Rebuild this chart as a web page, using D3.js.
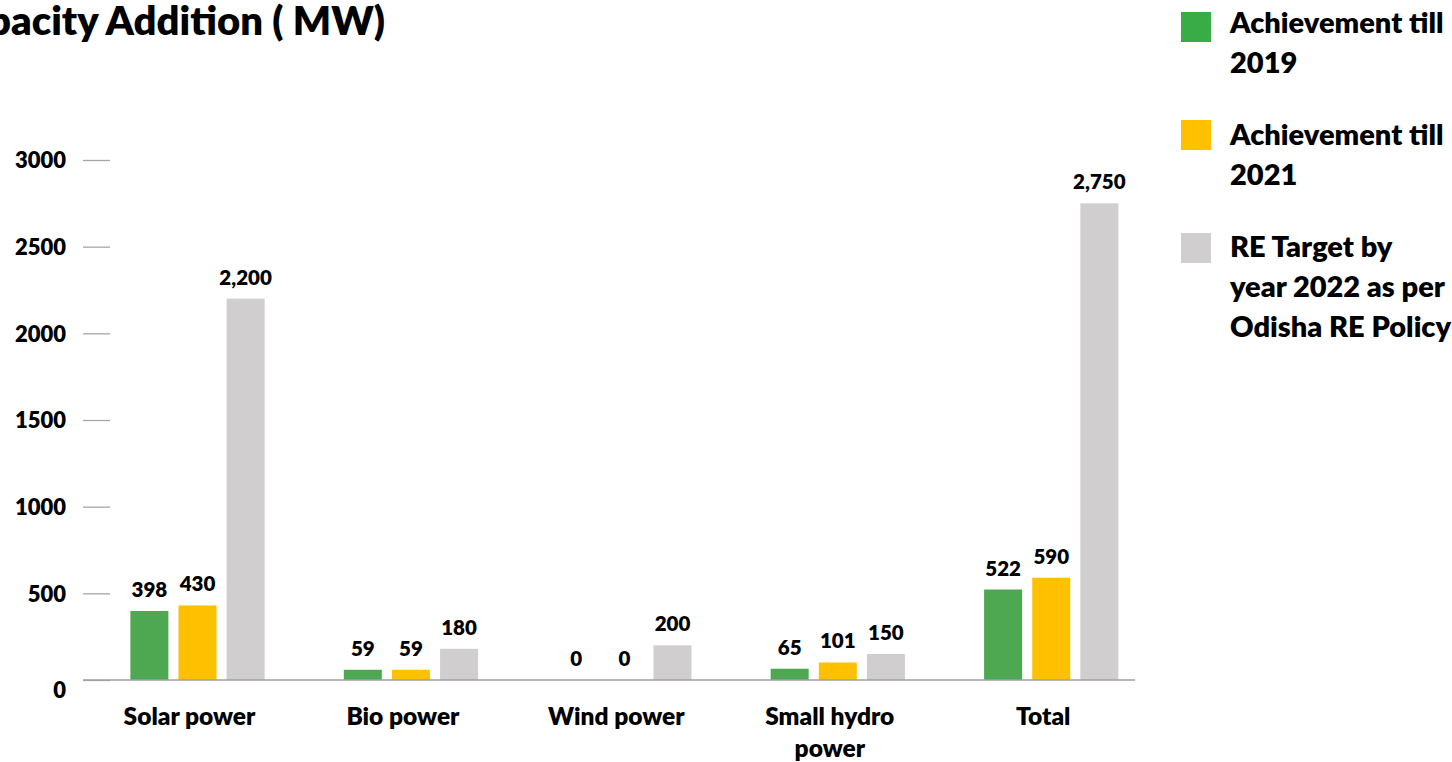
<!DOCTYPE html>
<html>
<head>
<meta charset="utf-8">
<script src="https://cdn.jsdelivr.net/npm/d3@7/dist/d3.min.js"></script>
<style>
  html, body { margin: 0; padding: 0; background: #fff; overflow: hidden; }
  svg { display: block; font-family: Lato, "Open Sans", sans-serif; font-weight: 800; }
</style>
</head>
<body>
<svg id="chart" width="1452" height="762"></svg>
<script>
// Renewable energy capacity (MW) by source
const categories = ["Solar power", "Bio power", "Wind power", "Small hydro power", "Total"];
const seriesNames = ["Achievement till 2019", "Achievement till 2021", "RE Target by year 2022 as per Odisha RE Policy"];
const achieved2019 = [398, 59, 0, 65, 522];
const achieved2021 = [430, 59, 0, 101, 590];
const target2022 = [2200, 180, 200, 150, 2750];
const yTicks = [0, 500, 1000, 1500, 2000, 2500, 3000];

const categoryLines = [["Solar power"], ["Bio power"], ["Wind power"], ["Small hydro", "power"], ["Total"]];
const legendLines = [["Achievement till", "2019"], ["Achievement till", "2021"], ["RE Target by", "year 2022 as per", "Odisha RE Policy"]];
const barColors = ["#4EA852", "#FFC000", "#D0CECE"];
const swatchColors = ["#39AC47", "#FFC000", "#D0CECE"];

const seriesValues = [achieved2019, achieved2021, target2022];
const rows = categories.map((c, i) => ({ category: c, values: seriesNames.map((s, k) => ({ series: s, k, value: seriesValues[k][i] })) }));

const svg = d3.select("#chart");

const plotLeft = 83, plotRight = 1135, plotTop = 160, plotBottom = 680;

const x0 = d3.scaleBand().domain(categories).range([plotLeft, plotRight])
  .paddingInner(0.371).paddingOuter(0.15).align(0.74);
const x1 = d3.scaleBand().domain(seriesNames).range([0, x0.bandwidth()]).paddingInner(0.21);
const y = d3.scaleLinear().domain([0, 3000]).range([plotBottom, plotTop]);
const color = d3.scaleOrdinal().domain(seriesNames).range(barColors);

// Title (runs off the left edge)
svg.append("text")
  .attr("x", 385).attr("y", 35)
  .attr("text-anchor", "end")
  .attr("font-size", 40)
  .attr("fill", "#000")
  .text("Capacity Addition ( MW)");

// Y axis: short tick marks with labels, no domain line
const yAxis = svg.append("g")
  .attr("transform", `translate(${plotLeft + 27},0)`)
  .call(d3.axisLeft(y).tickValues(yTicks).tickSize(27).tickPadding(17).tickFormat(d3.format("d")));
yAxis.select(".domain").remove();
yAxis.selectAll(".tick line").attr("stroke", "#a6a6a6").attr("stroke-width", 1.3);
yAxis.selectAll(".tick text")
  .attr("font-family", "Lato, sans-serif").attr("font-weight", 800)
  .attr("font-size", 22).attr("fill", "#000")
  .attr("dy", d => d === 0 ? "0.78em" : "0.36em");

// Bars
const groups = svg.append("g").selectAll("g")
  .data(rows).join("g")
  .attr("transform", d => `translate(${x0(d.category)},0)`);

groups.selectAll("rect")
  .data(d => d.values).join("rect")
  .attr("x", d => x1(d.series))
  .attr("width", x1.bandwidth())
  .attr("y", d => y(d.value))
  .attr("height", d => y(0) - y(d.value))
  .attr("fill", d => color(d.series));

// Value labels
groups.selectAll("text")
  .data(d => d.values).join("text")
  .attr("x", d => x1(d.series) + x1.bandwidth() / 2)
  .attr("y", d => y(d.value) - 14)
  .attr("text-anchor", "middle")
  .attr("font-size", 20.5)
  .attr("fill", "#000")
  .text(d => d3.format(",")(d.value));

// Baseline
svg.append("line")
  .attr("x1", plotLeft).attr("x2", plotRight)
  .attr("y1", y(0)).attr("y2", y(0))
  .attr("stroke", "#a0a0a0").attr("stroke-width", 1.5);

// Category labels
const labelX = d => x0(d) + x0.bandwidth() / 2 - 8;
svg.append("g").selectAll("text")
  .data(categories).join("text")
  .attr("x", labelX)
  .attr("y", 725)
  .attr("text-anchor", "middle")
  .attr("font-size", 24.5)
  .attr("fill", "#000")
  .each(function (d, i) {
    d3.select(this).selectAll("tspan")
      .data(categoryLines[i]).join("tspan")
      .attr("x", labelX(d))
      .attr("dy", (t, j) => j === 0 ? 0 : 32)
      .text(t => t);
  });

// Legend
const legendTops = [12, 120, 233];
const legendBaselines = [33, 145, 257];
const legend = svg.append("g").selectAll("g")
  .data(seriesNames).join("g")
  .attr("transform", "translate(1181,0)");
legend.append("rect")
  .attr("y", (d, i) => legendTops[i])
  .attr("width", 30).attr("height", 30)
  .attr("fill", (d, i) => swatchColors[i]);
legend.append("text")
  .attr("x", 49).attr("y", (d, i) => legendBaselines[i])
  .attr("font-size", 29)
  .attr("fill", "#000")
  .each(function (d, i) {
    d3.select(this).selectAll("tspan")
      .data(legendLines[i]).join("tspan")
      .attr("x", 49)
      .attr("dy", (t, j) => j === 0 ? 0 : 40)
      .text(t => t);
  });
</script>
</body>
</html>
